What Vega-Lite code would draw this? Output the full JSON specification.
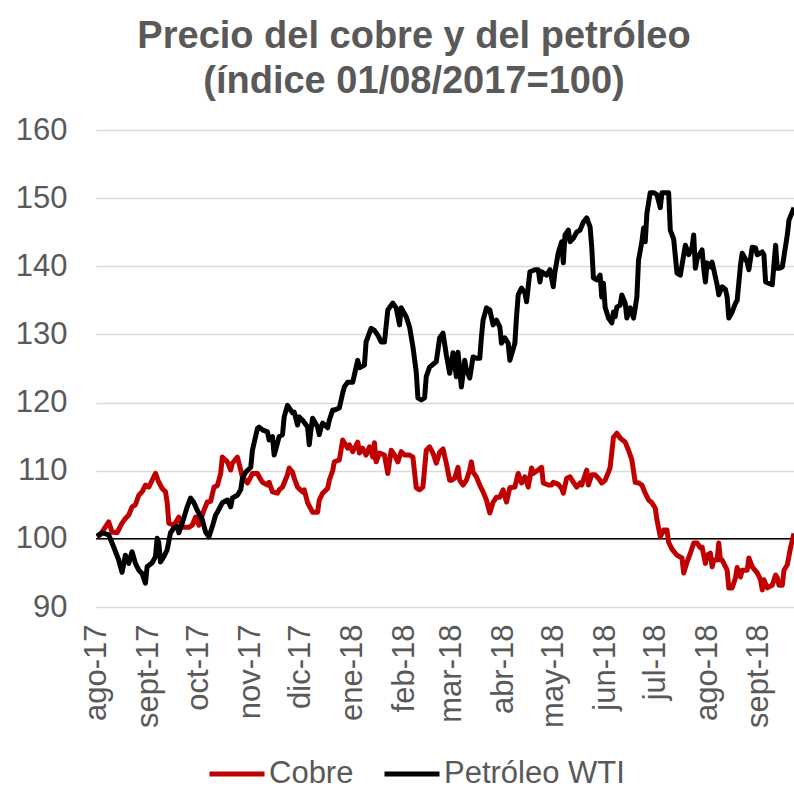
{
  "$schema": "https://vega.github.io/schema/vega-lite/v6.json",
  "autosize": {"type": "none"},
  "width": 698,
  "height": 477,
  "padding": {"left": 96, "top": 130, "right": 0, "bottom": 184},
  "background": "white",
  "title": {
    "text": ["Precio del cobre y del petróleo", "(índice 01/08/2017=100)"],
    "font": "Liberation Sans",
    "fontSize": 38,
    "fontWeight": "bold",
    "color": "#595959",
    "lineHeight": 45,
    "anchor": "middle",
    "frame": "group",
    "dx": -31,
    "offset": 13
  },
  "config": {
    "view": {"stroke": null},
    "font": "Liberation Sans"
  },
  "datasets": {
    "series": [
      {"d":"2017-08-01","s":"Cobre","v":100.3},{"d":"2017-08-03","s":"Cobre","v":100.6},{"d":"2017-08-08","s":"Cobre","v":102.5},{"d":"2017-08-10","s":"Cobre","v":101},{"d":"2017-08-13","s":"Cobre","v":100.9},{"d":"2017-08-16","s":"Cobre","v":102.3},{"d":"2017-08-18","s":"Cobre","v":103},{"d":"2017-08-20","s":"Cobre","v":103.5},{"d":"2017-08-22","s":"Cobre","v":104.7},{"d":"2017-08-24","s":"Cobre","v":105},{"d":"2017-08-26","s":"Cobre","v":106.4},{"d":"2017-08-28","s":"Cobre","v":106.9},{"d":"2017-08-30","s":"Cobre","v":107.9},{"d":"2017-09-01","s":"Cobre","v":107.6},{"d":"2017-09-03","s":"Cobre","v":108.6},{"d":"2017-09-05","s":"Cobre","v":109.6},{"d":"2017-09-07","s":"Cobre","v":108.3},{"d":"2017-09-09","s":"Cobre","v":107.4},{"d":"2017-09-11","s":"Cobre","v":106.9},{"d":"2017-09-12","s":"Cobre","v":105.3},{"d":"2017-09-13","s":"Cobre","v":102.3},{"d":"2017-09-16","s":"Cobre","v":102},{"d":"2017-09-19","s":"Cobre","v":103.2},{"d":"2017-09-21","s":"Cobre","v":101.7},{"d":"2017-09-25","s":"Cobre","v":101.7},{"d":"2017-09-27","s":"Cobre","v":102},{"d":"2017-09-29","s":"Cobre","v":103.2},{"d":"2017-10-01","s":"Cobre","v":102},{"d":"2017-10-04","s":"Cobre","v":104.2},{"d":"2017-10-06","s":"Cobre","v":105.4},{"d":"2017-10-08","s":"Cobre","v":105.5},{"d":"2017-10-10","s":"Cobre","v":107.6},{"d":"2017-10-12","s":"Cobre","v":107.8},{"d":"2017-10-14","s":"Cobre","v":109.6},{"d":"2017-10-15","s":"Cobre","v":112},{"d":"2017-10-18","s":"Cobre","v":111.3},{"d":"2017-10-20","s":"Cobre","v":110.1},{"d":"2017-10-21","s":"Cobre","v":111.1},{"d":"2017-10-24","s":"Cobre","v":112},{"d":"2017-10-26","s":"Cobre","v":110.1},{"d":"2017-10-27","s":"Cobre","v":109.1},{"d":"2017-10-30","s":"Cobre","v":108.2},{"d":"2017-11-01","s":"Cobre","v":109.1},{"d":"2017-11-02","s":"Cobre","v":109.6},{"d":"2017-11-05","s":"Cobre","v":109.6},{"d":"2017-11-06","s":"Cobre","v":109.1},{"d":"2017-11-08","s":"Cobre","v":108.3},{"d":"2017-11-11","s":"Cobre","v":107.9},{"d":"2017-11-12","s":"Cobre","v":108.3},{"d":"2017-11-14","s":"Cobre","v":106.9},{"d":"2017-11-17","s":"Cobre","v":106.7},{"d":"2017-11-18","s":"Cobre","v":107.2},{"d":"2017-11-20","s":"Cobre","v":107.6},{"d":"2017-11-23","s":"Cobre","v":109.4},{"d":"2017-11-24","s":"Cobre","v":110.4},{"d":"2017-11-26","s":"Cobre","v":109.8},{"d":"2017-11-27","s":"Cobre","v":108.9},{"d":"2017-11-29","s":"Cobre","v":107.6},{"d":"2017-12-02","s":"Cobre","v":106.9},{"d":"2017-12-03","s":"Cobre","v":107.2},{"d":"2017-12-05","s":"Cobre","v":105.3},{"d":"2017-12-08","s":"Cobre","v":103.9},{"d":"2017-12-11","s":"Cobre","v":103.9},{"d":"2017-12-12","s":"Cobre","v":105.7},{"d":"2017-12-14","s":"Cobre","v":106.7},{"d":"2017-12-17","s":"Cobre","v":107.4},{"d":"2017-12-18","s":"Cobre","v":108.6},{"d":"2017-12-20","s":"Cobre","v":110},{"d":"2017-12-21","s":"Cobre","v":111.3},{"d":"2017-12-24","s":"Cobre","v":111.6},{"d":"2017-12-26","s":"Cobre","v":114.5},{"d":"2017-12-29","s":"Cobre","v":113.3},{"d":"2017-12-30","s":"Cobre","v":113.8},{"d":"2018-01-01","s":"Cobre","v":112.8},{"d":"2018-01-04","s":"Cobre","v":114.2},{"d":"2018-01-05","s":"Cobre","v":112.6},{"d":"2018-01-07","s":"Cobre","v":113.3},{"d":"2018-01-09","s":"Cobre","v":112.3},{"d":"2018-01-11","s":"Cobre","v":113.5},{"d":"2018-01-13","s":"Cobre","v":112},{"d":"2018-01-14","s":"Cobre","v":114.1},{"d":"2018-01-15","s":"Cobre","v":111.3},{"d":"2018-01-17","s":"Cobre","v":112.6},{"d":"2018-01-20","s":"Cobre","v":112.3},{"d":"2018-01-22","s":"Cobre","v":109.6},{"d":"2018-01-24","s":"Cobre","v":113},{"d":"2018-01-26","s":"Cobre","v":112.3},{"d":"2018-01-28","s":"Cobre","v":111.3},{"d":"2018-01-30","s":"Cobre","v":112.8},{"d":"2018-02-01","s":"Cobre","v":112.3},{"d":"2018-02-04","s":"Cobre","v":112.3},{"d":"2018-02-06","s":"Cobre","v":112},{"d":"2018-02-08","s":"Cobre","v":107.5},{"d":"2018-02-10","s":"Cobre","v":107.2},{"d":"2018-02-12","s":"Cobre","v":107.6},{"d":"2018-02-14","s":"Cobre","v":113},{"d":"2018-02-16","s":"Cobre","v":113.5},{"d":"2018-02-18","s":"Cobre","v":112.6},{"d":"2018-02-20","s":"Cobre","v":111.1},{"d":"2018-02-22","s":"Cobre","v":112.7},{"d":"2018-02-24","s":"Cobre","v":113.2},{"d":"2018-02-26","s":"Cobre","v":111.1},{"d":"2018-02-28","s":"Cobre","v":108.6},{"d":"2018-03-01","s":"Cobre","v":108.6},{"d":"2018-03-03","s":"Cobre","v":108.9},{"d":"2018-03-05","s":"Cobre","v":110.5},{"d":"2018-03-06","s":"Cobre","v":108.6},{"d":"2018-03-08","s":"Cobre","v":107.9},{"d":"2018-03-10","s":"Cobre","v":108.6},{"d":"2018-03-12","s":"Cobre","v":110.1},{"d":"2018-03-13","s":"Cobre","v":111.3},{"d":"2018-03-14","s":"Cobre","v":109.8},{"d":"2018-03-16","s":"Cobre","v":109.1},{"d":"2018-03-18","s":"Cobre","v":107.9},{"d":"2018-03-20","s":"Cobre","v":106.9},{"d":"2018-03-22","s":"Cobre","v":105.7},{"d":"2018-03-24","s":"Cobre","v":103.8},{"d":"2018-03-26","s":"Cobre","v":105.4},{"d":"2018-03-28","s":"Cobre","v":106.1},{"d":"2018-03-30","s":"Cobre","v":106.1},{"d":"2018-04-01","s":"Cobre","v":107.2},{"d":"2018-04-03","s":"Cobre","v":105.4},{"d":"2018-04-05","s":"Cobre","v":107.5},{"d":"2018-04-08","s":"Cobre","v":107.6},{"d":"2018-04-10","s":"Cobre","v":109.6},{"d":"2018-04-12","s":"Cobre","v":108.2},{"d":"2018-04-14","s":"Cobre","v":109.1},{"d":"2018-04-16","s":"Cobre","v":107.6},{"d":"2018-04-18","s":"Cobre","v":110.4},{"d":"2018-04-19","s":"Cobre","v":109.6},{"d":"2018-04-22","s":"Cobre","v":110.1},{"d":"2018-04-24","s":"Cobre","v":110.5},{"d":"2018-04-25","s":"Cobre","v":108.2},{"d":"2018-04-28","s":"Cobre","v":107.9},{"d":"2018-04-30","s":"Cobre","v":107.9},{"d":"2018-05-01","s":"Cobre","v":108.3},{"d":"2018-05-04","s":"Cobre","v":108},{"d":"2018-05-06","s":"Cobre","v":107.4},{"d":"2018-05-07","s":"Cobre","v":106.7},{"d":"2018-05-09","s":"Cobre","v":108.9},{"d":"2018-05-11","s":"Cobre","v":109.1},{"d":"2018-05-13","s":"Cobre","v":108.3},{"d":"2018-05-15","s":"Cobre","v":107.6},{"d":"2018-05-17","s":"Cobre","v":108.2},{"d":"2018-05-18","s":"Cobre","v":107.9},{"d":"2018-05-21","s":"Cobre","v":110.1},{"d":"2018-05-22","s":"Cobre","v":107.9},{"d":"2018-05-24","s":"Cobre","v":109.4},{"d":"2018-05-26","s":"Cobre","v":109.4},{"d":"2018-05-28","s":"Cobre","v":108.9},{"d":"2018-05-30","s":"Cobre","v":108.2},{"d":"2018-06-01","s":"Cobre","v":108.6},{"d":"2018-06-03","s":"Cobre","v":109.8},{"d":"2018-06-04","s":"Cobre","v":110.5},{"d":"2018-06-06","s":"Cobre","v":114.9},{"d":"2018-06-08","s":"Cobre","v":115.5},{"d":"2018-06-10","s":"Cobre","v":114.8},{"d":"2018-06-13","s":"Cobre","v":114.2},{"d":"2018-06-15","s":"Cobre","v":113},{"d":"2018-06-17","s":"Cobre","v":111.6},{"d":"2018-06-19","s":"Cobre","v":108.3},{"d":"2018-06-21","s":"Cobre","v":108.2},{"d":"2018-06-23","s":"Cobre","v":107.9},{"d":"2018-06-25","s":"Cobre","v":106.7},{"d":"2018-06-27","s":"Cobre","v":105.7},{"d":"2018-06-29","s":"Cobre","v":105.3},{"d":"2018-07-01","s":"Cobre","v":104.5},{"d":"2018-07-02","s":"Cobre","v":102.8},{"d":"2018-07-04","s":"Cobre","v":100.3},{"d":"2018-07-06","s":"Cobre","v":101.3},{"d":"2018-07-08","s":"Cobre","v":101.3},{"d":"2018-07-09","s":"Cobre","v":99.5},{"d":"2018-07-11","s":"Cobre","v":98.5},{"d":"2018-07-14","s":"Cobre","v":97.6},{"d":"2018-07-17","s":"Cobre","v":97.2},{"d":"2018-07-18","s":"Cobre","v":95},{"d":"2018-07-20","s":"Cobre","v":96.6},{"d":"2018-07-22","s":"Cobre","v":97.9},{"d":"2018-07-24","s":"Cobre","v":99.4},{"d":"2018-07-26","s":"Cobre","v":99.4},{"d":"2018-07-28","s":"Cobre","v":98.7},{"d":"2018-07-29","s":"Cobre","v":98.8},{"d":"2018-07-31","s":"Cobre","v":96.4},{"d":"2018-08-01","s":"Cobre","v":97.6},{"d":"2018-08-03","s":"Cobre","v":97.9},{"d":"2018-08-04","s":"Cobre","v":95.9},{"d":"2018-08-05","s":"Cobre","v":96.9},{"d":"2018-08-07","s":"Cobre","v":96.9},{"d":"2018-08-08","s":"Cobre","v":99.4},{"d":"2018-08-09","s":"Cobre","v":96.9},{"d":"2018-08-10","s":"Cobre","v":96.9},{"d":"2018-08-13","s":"Cobre","v":95.4},{"d":"2018-08-14","s":"Cobre","v":92.8},{"d":"2018-08-16","s":"Cobre","v":92.8},{"d":"2018-08-18","s":"Cobre","v":94.3},{"d":"2018-08-19","s":"Cobre","v":95.8},{"d":"2018-08-21","s":"Cobre","v":94.4},{"d":"2018-08-22","s":"Cobre","v":95.4},{"d":"2018-08-25","s":"Cobre","v":95.4},{"d":"2018-08-26","s":"Cobre","v":97.2},{"d":"2018-08-28","s":"Cobre","v":95.9},{"d":"2018-08-31","s":"Cobre","v":95},{"d":"2018-09-02","s":"Cobre","v":94},{"d":"2018-09-03","s":"Cobre","v":92.5},{"d":"2018-09-04","s":"Cobre","v":94},{"d":"2018-09-06","s":"Cobre","v":92.8},{"d":"2018-09-09","s":"Cobre","v":93.2},{"d":"2018-09-11","s":"Cobre","v":94.7},{"d":"2018-09-12","s":"Cobre","v":94.3},{"d":"2018-09-13","s":"Cobre","v":93.2},{"d":"2018-09-15","s":"Cobre","v":93.2},{"d":"2018-09-16","s":"Cobre","v":95.4},{"d":"2018-09-18","s":"Cobre","v":96.2},{"d":"2018-09-20","s":"Cobre","v":98.8},{"d":"2018-09-22","s":"Cobre","v":100.8},
      {"d":"2017-08-01","s":"Petróleo WTI","v":100.4},{"d":"2017-08-04","s":"Petróleo WTI","v":100.9},{"d":"2017-08-08","s":"Petróleo WTI","v":100.6},{"d":"2017-08-11","s":"Petróleo WTI","v":98.8},{"d":"2017-08-14","s":"Petróleo WTI","v":96.9},{"d":"2017-08-16","s":"Petróleo WTI","v":95.1},{"d":"2017-08-18","s":"Petróleo WTI","v":97.6},{"d":"2017-08-20","s":"Petróleo WTI","v":96.4},{"d":"2017-08-22","s":"Petróleo WTI","v":98.1},{"d":"2017-08-24","s":"Petróleo WTI","v":96.4},{"d":"2017-08-26","s":"Petróleo WTI","v":95.4},{"d":"2017-08-28","s":"Petróleo WTI","v":94.9},{"d":"2017-08-30","s":"Petróleo WTI","v":93.5},{"d":"2017-08-31","s":"Petróleo WTI","v":95.9},{"d":"2017-09-03","s":"Petróleo WTI","v":96.5},{"d":"2017-09-05","s":"Petróleo WTI","v":97.4},{"d":"2017-09-06","s":"Petróleo WTI","v":100.1},{"d":"2017-09-07","s":"Petróleo WTI","v":99.4},{"d":"2017-09-08","s":"Petróleo WTI","v":96.6},{"d":"2017-09-10","s":"Petróleo WTI","v":97.4},{"d":"2017-09-12","s":"Petróleo WTI","v":98.4},{"d":"2017-09-14","s":"Petróleo WTI","v":100.9},{"d":"2017-09-16","s":"Petróleo WTI","v":101.6},{"d":"2017-09-18","s":"Petróleo WTI","v":101.8},{"d":"2017-09-19","s":"Petróleo WTI","v":100.9},{"d":"2017-09-21","s":"Petróleo WTI","v":102.3},{"d":"2017-09-24","s":"Petróleo WTI","v":104.7},{"d":"2017-09-26","s":"Petróleo WTI","v":106},{"d":"2017-09-28","s":"Petróleo WTI","v":105.3},{"d":"2017-09-30","s":"Petróleo WTI","v":104.2},{"d":"2017-10-03","s":"Petróleo WTI","v":102.8},{"d":"2017-10-05","s":"Petróleo WTI","v":101},{"d":"2017-10-07","s":"Petróleo WTI","v":100.3},{"d":"2017-10-09","s":"Petróleo WTI","v":101.8},{"d":"2017-10-11","s":"Petróleo WTI","v":103.5},{"d":"2017-10-12","s":"Petróleo WTI","v":103.9},{"d":"2017-10-15","s":"Petróleo WTI","v":105.3},{"d":"2017-10-18","s":"Petróleo WTI","v":105.7},{"d":"2017-10-20","s":"Petróleo WTI","v":104.7},{"d":"2017-10-21","s":"Petróleo WTI","v":106},{"d":"2017-10-24","s":"Petróleo WTI","v":106.4},{"d":"2017-10-26","s":"Petróleo WTI","v":107.2},{"d":"2017-10-27","s":"Petróleo WTI","v":108.9},{"d":"2017-10-29","s":"Petróleo WTI","v":109.8},{"d":"2017-11-01","s":"Petróleo WTI","v":110.5},{"d":"2017-11-02","s":"Petróleo WTI","v":113},{"d":"2017-11-05","s":"Petróleo WTI","v":116.2},{"d":"2017-11-06","s":"Petróleo WTI","v":116.4},{"d":"2017-11-08","s":"Petróleo WTI","v":116},{"d":"2017-11-11","s":"Petróleo WTI","v":115.7},{"d":"2017-11-12","s":"Petróleo WTI","v":114.5},{"d":"2017-11-14","s":"Petróleo WTI","v":115},{"d":"2017-11-15","s":"Petróleo WTI","v":112.3},{"d":"2017-11-17","s":"Petróleo WTI","v":114.1},{"d":"2017-11-18","s":"Petróleo WTI","v":115},{"d":"2017-11-20","s":"Petróleo WTI","v":115.3},{"d":"2017-11-21","s":"Petróleo WTI","v":117.9},{"d":"2017-11-23","s":"Petróleo WTI","v":119.6},{"d":"2017-11-26","s":"Petróleo WTI","v":118.5},{"d":"2017-11-27","s":"Petróleo WTI","v":118.6},{"d":"2017-11-29","s":"Petróleo WTI","v":116.7},{"d":"2017-11-30","s":"Petróleo WTI","v":117.9},{"d":"2017-12-02","s":"Petróleo WTI","v":117.4},{"d":"2017-12-05","s":"Petróleo WTI","v":116.4},{"d":"2017-12-06","s":"Petróleo WTI","v":113.8},{"d":"2017-12-07","s":"Petróleo WTI","v":116},{"d":"2017-12-08","s":"Petróleo WTI","v":117.7},{"d":"2017-12-11","s":"Petróleo WTI","v":116.4},{"d":"2017-12-12","s":"Petróleo WTI","v":115.3},{"d":"2017-12-13","s":"Petróleo WTI","v":116.3},{"d":"2017-12-14","s":"Petróleo WTI","v":117},{"d":"2017-12-17","s":"Petróleo WTI","v":116.3},{"d":"2017-12-18","s":"Petróleo WTI","v":117.4},{"d":"2017-12-20","s":"Petróleo WTI","v":118.9},{"d":"2017-12-21","s":"Petróleo WTI","v":118.9},{"d":"2017-12-24","s":"Petróleo WTI","v":119.2},{"d":"2017-12-26","s":"Petróleo WTI","v":121.4},{"d":"2017-12-27","s":"Petróleo WTI","v":122.3},{"d":"2017-12-29","s":"Petróleo WTI","v":123},{"d":"2018-01-01","s":"Petróleo WTI","v":123},{"d":"2018-01-04","s":"Petróleo WTI","v":126.2},{"d":"2018-01-05","s":"Petróleo WTI","v":125.1},{"d":"2018-01-08","s":"Petróleo WTI","v":125.5},{"d":"2018-01-09","s":"Petróleo WTI","v":128.9},{"d":"2018-01-12","s":"Petróleo WTI","v":130.9},{"d":"2018-01-14","s":"Petróleo WTI","v":130.6},{"d":"2018-01-16","s":"Petróleo WTI","v":129.9},{"d":"2018-01-18","s":"Petróleo WTI","v":128.9},{"d":"2018-01-20","s":"Petróleo WTI","v":128.9},{"d":"2018-01-22","s":"Petróleo WTI","v":133.6},{"d":"2018-01-25","s":"Petróleo WTI","v":134.6},{"d":"2018-01-27","s":"Petróleo WTI","v":133.9},{"d":"2018-01-29","s":"Petróleo WTI","v":131.4},{"d":"2018-01-30","s":"Petróleo WTI","v":133.9},{"d":"2018-02-02","s":"Petróleo WTI","v":132.6},{"d":"2018-02-04","s":"Petróleo WTI","v":131.1},{"d":"2018-02-06","s":"Petróleo WTI","v":128.2},{"d":"2018-02-08","s":"Petróleo WTI","v":124.5},{"d":"2018-02-09","s":"Petróleo WTI","v":120.7},{"d":"2018-02-11","s":"Petróleo WTI","v":120.4},{"d":"2018-02-13","s":"Petróleo WTI","v":120.7},{"d":"2018-02-14","s":"Petróleo WTI","v":123.8},{"d":"2018-02-16","s":"Petróleo WTI","v":125.2},{"d":"2018-02-19","s":"Petróleo WTI","v":125.8},{"d":"2018-02-20","s":"Petróleo WTI","v":126},{"d":"2018-02-22","s":"Petróleo WTI","v":129.5},{"d":"2018-02-24","s":"Petróleo WTI","v":130.2},{"d":"2018-02-26","s":"Petróleo WTI","v":127},{"d":"2018-02-28","s":"Petróleo WTI","v":124.3},{"d":"2018-03-02","s":"Petróleo WTI","v":127.3},{"d":"2018-03-04","s":"Petróleo WTI","v":123.8},{"d":"2018-03-05","s":"Petróleo WTI","v":127.4},{"d":"2018-03-07","s":"Petróleo WTI","v":122.3},{"d":"2018-03-09","s":"Petróleo WTI","v":126.2},{"d":"2018-03-10","s":"Petróleo WTI","v":124.8},{"d":"2018-03-12","s":"Petróleo WTI","v":123.6},{"d":"2018-03-14","s":"Petróleo WTI","v":126.7},{"d":"2018-03-16","s":"Petróleo WTI","v":126.5},{"d":"2018-03-18","s":"Petróleo WTI","v":126.5},{"d":"2018-03-19","s":"Petróleo WTI","v":129.6},{"d":"2018-03-20","s":"Petróleo WTI","v":132.1},{"d":"2018-03-22","s":"Petróleo WTI","v":133.9},{"d":"2018-03-24","s":"Petróleo WTI","v":133.6},{"d":"2018-03-26","s":"Petróleo WTI","v":131.4},{"d":"2018-03-28","s":"Petróleo WTI","v":132.1},{"d":"2018-03-30","s":"Petróleo WTI","v":131.1},{"d":"2018-03-31","s":"Petróleo WTI","v":128.7},{"d":"2018-04-02","s":"Petróleo WTI","v":129.5},{"d":"2018-04-04","s":"Petróleo WTI","v":128.7},{"d":"2018-04-05","s":"Petróleo WTI","v":126.2},{"d":"2018-04-08","s":"Petróleo WTI","v":128.7},{"d":"2018-04-09","s":"Petróleo WTI","v":132.6},{"d":"2018-04-10","s":"Petróleo WTI","v":135.8},{"d":"2018-04-12","s":"Petróleo WTI","v":136.8},{"d":"2018-04-14","s":"Petróleo WTI","v":136.1},{"d":"2018-04-15","s":"Petróleo WTI","v":134.8},{"d":"2018-04-17","s":"Petróleo WTI","v":139.2},{"d":"2018-04-20","s":"Petróleo WTI","v":139.5},{"d":"2018-04-22","s":"Petróleo WTI","v":139.5},{"d":"2018-04-23","s":"Petróleo WTI","v":137.7},{"d":"2018-04-24","s":"Petróleo WTI","v":139.2},{"d":"2018-04-27","s":"Petróleo WTI","v":138.7},{"d":"2018-04-29","s":"Petróleo WTI","v":139.5},{"d":"2018-05-01","s":"Petróleo WTI","v":137},{"d":"2018-05-02","s":"Petróleo WTI","v":139.2},{"d":"2018-05-04","s":"Petróleo WTI","v":142},{"d":"2018-05-06","s":"Petróleo WTI","v":143.6},{"d":"2018-05-07","s":"Petróleo WTI","v":140.5},{"d":"2018-05-08","s":"Petróleo WTI","v":144.6},{"d":"2018-05-10","s":"Petróleo WTI","v":145.3},{"d":"2018-05-11","s":"Petróleo WTI","v":143.6},{"d":"2018-05-13","s":"Petróleo WTI","v":144.1},{"d":"2018-05-15","s":"Petróleo WTI","v":145},{"d":"2018-05-17","s":"Petróleo WTI","v":145.3},{"d":"2018-05-19","s":"Petróleo WTI","v":146.5},{"d":"2018-05-21","s":"Petróleo WTI","v":147.1},{"d":"2018-05-23","s":"Petróleo WTI","v":145.8},{"d":"2018-05-24","s":"Petróleo WTI","v":142.8},{"d":"2018-05-25","s":"Petróleo WTI","v":138.3},{"d":"2018-05-27","s":"Petróleo WTI","v":138},{"d":"2018-05-29","s":"Petróleo WTI","v":138.7},{"d":"2018-05-30","s":"Petróleo WTI","v":135.5},{"d":"2018-05-31","s":"Petróleo WTI","v":137.5},{"d":"2018-06-01","s":"Petróleo WTI","v":134},{"d":"2018-06-03","s":"Petróleo WTI","v":132.4},{"d":"2018-06-05","s":"Petróleo WTI","v":131.7},{"d":"2018-06-06","s":"Petróleo WTI","v":133.3},{"d":"2018-06-07","s":"Petróleo WTI","v":132.6},{"d":"2018-06-08","s":"Petróleo WTI","v":134},{"d":"2018-06-10","s":"Petróleo WTI","v":134.3},{"d":"2018-06-11","s":"Petróleo WTI","v":135.8},{"d":"2018-06-13","s":"Petróleo WTI","v":134.6},{"d":"2018-06-14","s":"Petróleo WTI","v":132.4},{"d":"2018-06-16","s":"Petróleo WTI","v":133.9},{"d":"2018-06-18","s":"Petróleo WTI","v":132.4},{"d":"2018-06-19","s":"Petróleo WTI","v":133.9},{"d":"2018-06-20","s":"Petróleo WTI","v":135.5},{"d":"2018-06-21","s":"Petróleo WTI","v":140.9},{"d":"2018-06-23","s":"Petróleo WTI","v":143.6},{"d":"2018-06-24","s":"Petróleo WTI","v":145.6},{"d":"2018-06-25","s":"Petróleo WTI","v":143.6},{"d":"2018-06-26","s":"Petróleo WTI","v":147.8},{"d":"2018-06-28","s":"Petróleo WTI","v":150.8},{"d":"2018-06-30","s":"Petróleo WTI","v":150.8},{"d":"2018-07-02","s":"Petróleo WTI","v":150.5},{"d":"2018-07-04","s":"Petróleo WTI","v":148.6},{"d":"2018-07-05","s":"Petróleo WTI","v":150.8},{"d":"2018-07-09","s":"Petróleo WTI","v":150.8},{"d":"2018-07-10","s":"Petróleo WTI","v":145.3},{"d":"2018-07-12","s":"Petróleo WTI","v":144},{"d":"2018-07-14","s":"Petróleo WTI","v":139},{"d":"2018-07-16","s":"Petróleo WTI","v":138.7},{"d":"2018-07-19","s":"Petróleo WTI","v":143.1},{"d":"2018-07-21","s":"Petróleo WTI","v":141.7},{"d":"2018-07-23","s":"Petróleo WTI","v":142.8},{"d":"2018-07-24","s":"Petróleo WTI","v":144.6},{"d":"2018-07-25","s":"Petróleo WTI","v":139.7},{"d":"2018-07-26","s":"Petróleo WTI","v":141.1},{"d":"2018-07-29","s":"Petróleo WTI","v":142.4},{"d":"2018-07-30","s":"Petróleo WTI","v":139.7},{"d":"2018-07-31","s":"Petróleo WTI","v":137.7},{"d":"2018-08-01","s":"Petróleo WTI","v":140.5},{"d":"2018-08-03","s":"Petróleo WTI","v":139.9},{"d":"2018-08-04","s":"Petróleo WTI","v":140.6},{"d":"2018-08-06","s":"Petróleo WTI","v":138.4},{"d":"2018-08-07","s":"Petróleo WTI","v":137.3},{"d":"2018-08-08","s":"Petróleo WTI","v":135.8},{"d":"2018-08-10","s":"Petróleo WTI","v":137},{"d":"2018-08-12","s":"Petróleo WTI","v":136.6},{"d":"2018-08-13","s":"Petróleo WTI","v":135.5},{"d":"2018-08-14","s":"Petróleo WTI","v":132.4},{"d":"2018-08-16","s":"Petróleo WTI","v":133.3},{"d":"2018-08-18","s":"Petróleo WTI","v":134.6},{"d":"2018-08-19","s":"Petróleo WTI","v":135},{"d":"2018-08-21","s":"Petróleo WTI","v":140.2},{"d":"2018-08-22","s":"Petróleo WTI","v":141.9},{"d":"2018-08-25","s":"Petróleo WTI","v":140.6},{"d":"2018-08-26","s":"Petróleo WTI","v":139.5},{"d":"2018-08-28","s":"Petróleo WTI","v":142.8},{"d":"2018-08-30","s":"Petróleo WTI","v":142.7},{"d":"2018-08-31","s":"Petróleo WTI","v":141.7},{"d":"2018-09-03","s":"Petróleo WTI","v":142.1},{"d":"2018-09-04","s":"Petróleo WTI","v":141.7},{"d":"2018-09-05","s":"Petróleo WTI","v":137.7},{"d":"2018-09-09","s":"Petróleo WTI","v":137.3},{"d":"2018-09-11","s":"Petróleo WTI","v":143.1},{"d":"2018-09-12","s":"Petróleo WTI","v":139.7},{"d":"2018-09-13","s":"Petróleo WTI","v":139.7},{"d":"2018-09-15","s":"Petróleo WTI","v":139.9},{"d":"2018-09-18","s":"Petróleo WTI","v":144.6},{"d":"2018-09-19","s":"Petróleo WTI","v":146.8},{"d":"2018-09-22","s":"Petróleo WTI","v":148.6}
    ],
    "ref": [{"v": 100}]
  },
  "layer": [
    {
      "data": {"name": "ref"},
      "mark": {"type": "rule", "color": "#000000", "strokeWidth": 1.5},
      "encoding": {
        "y": {"field": "v", "type": "quantitative", "scale": {"domain": [90, 160]}}
      }
    },
    {
      "data": {"name": "series", "format": {"parse": {"d": "date:'%Y-%m-%d'"}}},
      "mark": {"type": "line", "strokeWidth": 5, "strokeJoin": "round", "strokeCap": "butt", "clip": true},
      "encoding": {
        "x": {
          "field": "d",
          "type": "temporal",
          "scale": {"domain": [{"year": 2017, "month": 7, "date": 31, "hours": 10}, {"year": 2018, "month": 9, "date": 22}]},
          "axis": {
            "title": null,
            "grid": false,
            "domain": false,
            "ticks": false,
            "tickCount": {"interval": "month", "step": 1},
            "labelExpr": "['ene','feb','mar','abr','may','jun','jul','ago','sept','oct','nov','dic'][month(datum.value)] + '-' + timeFormat(datum.value, '%y')",
            "labelAngle": -90,
            "labelFont": "Liberation Sans",
            "labelFontSize": 31,
            "labelColor": "#595959",
            "labelPadding": 17,
            "labelFlush": false,
            "labelOverlap": false
          }
        },
        "y": {
          "field": "v",
          "type": "quantitative",
          "scale": {"domain": [90, 160], "nice": false, "zero": false},
          "axis": {
            "title": null,
            "values": [90, 100, 110, 120, 130, 140, 150, 160],
            "domain": false,
            "ticks": false,
            "tickSize": 0,
            "gridColor": "#D9D9D9",
            "gridWidth": 1.5,
            "labelFont": "Liberation Sans",
            "labelFontSize": 31,
            "labelColor": "#595959",
            "labelPadding": 29
          }
        },
        "color": {
          "field": "s",
          "type": "nominal",
          "scale": {"domain": ["Cobre", "Petróleo WTI"], "range": ["#C00000", "#000000"]},
          "legend": {
            "title": null,
            "orient": "none",
            "direction": "horizontal",
            "legendX": 111,
            "legendY": 614,
            "symbolType": "stroke",
            "symbolSize": 3025,
            "symbolStrokeWidth": 5,
            "labelFont": "Liberation Sans",
            "labelFontSize": 31,
            "labelColor": "#595959",
            "labelOffset": 2,
            "labelLimit": 400,
            "columnPadding": 20,
            "padding": 0
          }
        }
      }
    }
  ]
}
